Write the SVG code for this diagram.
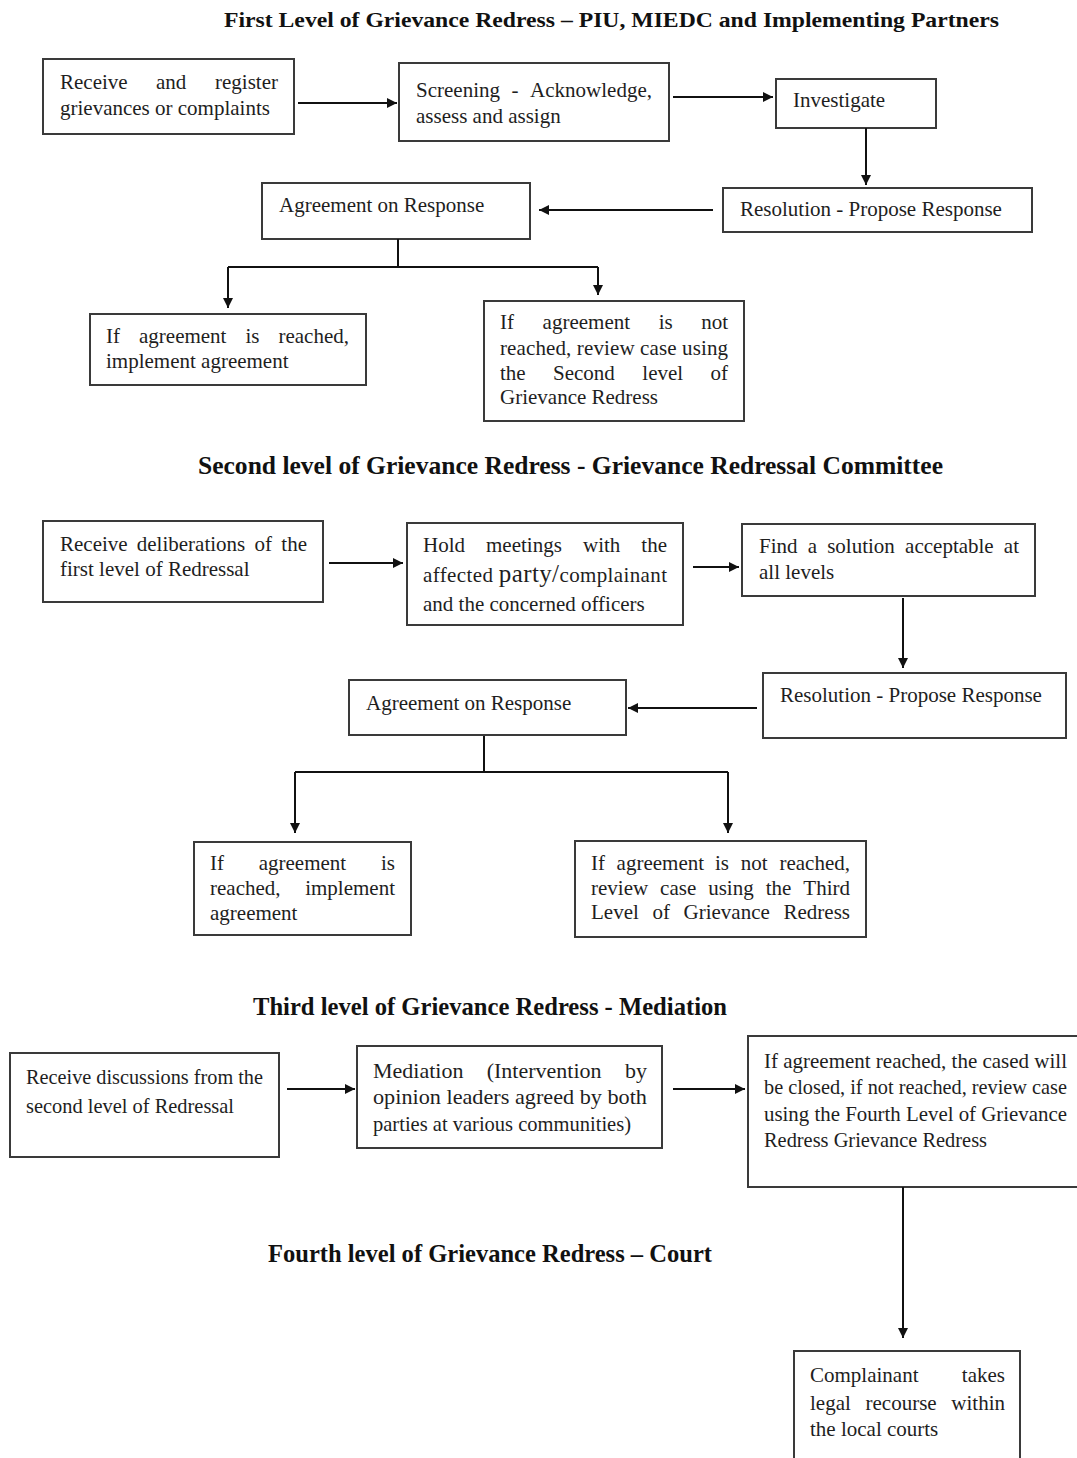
<svg xmlns="http://www.w3.org/2000/svg" width="1077" height="1458" viewBox="0 0 1077 1458">
<style>
.box{fill:#fff;stroke:#3a3a3a;stroke-width:2}
.t{font-family:"Liberation Serif","Times New Roman",serif;font-size:21px;fill:#1e1e1e}
.c{font-family:"Liberation Serif","Times New Roman",serif;font-size:22px;fill:#1e1e1e}
.h{font-family:"Liberation Serif","Times New Roman",serif;font-weight:bold;fill:#111}
.e{text-anchor:end}
.ln{fill:none;stroke:#111;stroke-width:2}
.arr{marker-end:url(#ah)}
</style>
<defs>
<marker id="ah" viewBox="0 0 10 10" refX="10" refY="5" markerWidth="10" markerHeight="10" markerUnits="userSpaceOnUse" orient="auto">
<path d="M0,0 L10,5 L0,10 z" fill="#111"/>
</marker>
</defs>
<rect width="1077" height="1458" fill="#fff"/>

<!-- Titles -->
<text class="h" x="224" y="27" font-size="21" textLength="775" lengthAdjust="spacingAndGlyphs">First Level of Grievance Redress – PIU, MIEDC and Implementing Partners</text>
<text class="h" x="198" y="474" font-size="25" textLength="745" lengthAdjust="spacingAndGlyphs">Second level of Grievance Redress - Grievance Redressal Committee</text>
<text class="h" x="253" y="1015" font-size="25" textLength="474" lengthAdjust="spacingAndGlyphs">Third level of Grievance Redress - Mediation</text>
<text class="h" x="268" y="1262" font-size="25" textLength="444" lengthAdjust="spacingAndGlyphs">Fourth level of Grievance Redress – Court</text>

<!-- Level 1 nodes -->
<g id="l1-receive">
<rect class="box" x="43" y="59" width="251" height="75"/>
<text class="t" y="89"><tspan x="60">Receive</tspan><tspan x="156">and</tspan><tspan x="278" class="e">register</tspan></text>
<text class="t" x="60" y="115">grievances or complaints</text>
</g>
<g id="l1-screening">
<rect class="box" x="399" y="63" width="270" height="78"/>
<text class="t" y="97"><tspan x="416">Screening</tspan><tspan x="511.5">-</tspan><tspan x="652" class="e">Acknowledge,</tspan></text>
<text class="t" x="416" y="123">assess and assign</text>
</g>
<g id="l1-investigate">
<rect class="box" x="776" y="79" width="160" height="49"/>
<text class="t" x="793" y="107">Investigate</text>
</g>
<g id="l1-resolution">
<rect class="box" x="723" y="188" width="309" height="44"/>
<text class="t" x="740" y="216">Resolution - Propose Response</text>
</g>
<g id="l1-agreement">
<rect class="box" x="262" y="183" width="268" height="56"/>
<text class="t" x="279" y="212">Agreement on Response</text>
</g>
<g id="l1-reached">
<rect class="box" x="90" y="314" width="276" height="71"/>
<text class="t" y="343"><tspan x="106">If</tspan><tspan x="139">agreement</tspan><tspan x="245.5">is</tspan><tspan x="349" class="e">reached,</tspan></text>
<text class="t" x="106" y="368">implement agreement</text>
</g>
<g id="l1-notreached">
<rect class="box" x="484" y="301" width="260" height="120"/>
<text class="t" y="329"><tspan x="500">If</tspan><tspan x="542.6">agreement</tspan><tspan x="658.7">is</tspan><tspan x="728" class="e">not</tspan></text>
<text class="t" x="500" y="355" textLength="228" lengthAdjust="spacing">reached, review case using</text>
<text class="t" y="380"><tspan x="500">the</tspan><tspan x="553">Second</tspan><tspan x="642.3">level</tspan><tspan x="728" class="e">of</tspan></text>
<text class="t" x="500" y="404">Grievance Redress</text>
</g>

<!-- Level 2 nodes -->
<g id="l2-receive">
<rect class="box" x="43" y="521" width="280" height="81"/>
<text class="t" y="551"><tspan x="60">Receive</tspan><tspan x="136.8">deliberations</tspan><tspan x="254.5">of</tspan><tspan x="307" class="e">the</tspan></text>
<text class="t" x="60" y="576">first level of Redressal</text>
</g>
<g id="l2-meetings">
<rect class="box" x="407" y="523" width="276" height="102"/>
<text class="t" y="552"><tspan x="423">Hold</tspan><tspan x="486">meetings</tspan><tspan x="583">with</tspan><tspan x="667" class="e">the</tspan></text>
<text class="t" x="423" y="582" textLength="244" lengthAdjust="spacing">affected <tspan font-size="25">party/</tspan>complainant</text>
<text class="t" x="423" y="611">and the concerned officers</text>
</g>
<g id="l2-find">
<rect class="box" x="742" y="524" width="293" height="72"/>
<text class="t" y="553"><tspan x="759">Find</tspan><tspan x="807.7">a</tspan><tspan x="827.2">solution</tspan><tspan x="905.1">acceptable</tspan><tspan x="1019" class="e">at</tspan></text>
<text class="t" x="759" y="579">all levels</text>
</g>
<g id="l2-resolution">
<rect class="box" x="763" y="673" width="303" height="65"/>
<text class="t" x="780" y="702">Resolution - Propose Response</text>
</g>
<g id="l2-agreement">
<rect class="box" x="349" y="680" width="277" height="55"/>
<text class="t" x="366" y="710">Agreement on Response</text>
</g>
<g id="l2-reached">
<rect class="box" x="194" y="842" width="217" height="93"/>
<text class="t" y="870"><tspan x="210">If</tspan><tspan x="258.7">agreement</tspan><tspan x="395" class="e">is</tspan></text>
<text class="t" y="895"><tspan x="210">reached,</tspan><tspan x="395" class="e">implement</tspan></text>
<text class="t" x="210" y="920">agreement</text>
</g>
<g id="l2-notreached">
<rect class="box" x="575" y="841" width="291" height="96"/>
<text class="t" y="870"><tspan x="591">If</tspan><tspan x="616.6">agreement</tspan><tspan x="715">is</tspan><tspan x="740.8">not</tspan><tspan x="850" class="e">reached,</tspan></text>
<text class="t" y="895"><tspan x="591">review</tspan><tspan x="660.1">case</tspan><tspan x="708.2">using</tspan><tspan x="765.7">the</tspan><tspan x="850" class="e">Third</tspan></text>
<text class="t" y="919"><tspan x="591">Level</tspan><tspan x="652.4">of</tspan><tspan x="683.5">Grievance</tspan><tspan x="850" class="e">Redress</tspan></text>
</g>

<!-- Level 3 nodes -->
<g id="l3-receive">
<rect class="box" x="10" y="1053" width="269" height="104"/>
<text class="c" x="26" y="1084" textLength="237" lengthAdjust="spacingAndGlyphs">Receive discussions from the</text>
<text class="c" x="26" y="1113" textLength="208" lengthAdjust="spacingAndGlyphs">second level of Redressal</text>
</g>
<g id="l3-mediation">
<rect class="box" x="357" y="1046" width="305" height="102"/>
<text class="c" y="1078"><tspan x="373">Mediation</tspan><tspan x="486.7">(Intervention</tspan><tspan x="647" class="e">by</tspan></text>
<text class="c" x="373" y="1104" textLength="274" lengthAdjust="spacingAndGlyphs">opinion leaders agreed by both</text>
<text class="c" x="373" y="1131" textLength="258" lengthAdjust="spacingAndGlyphs">parties at various communities)</text>
</g>
<g id="l3-outcome">
<rect class="box" x="748" y="1036" width="340" height="151"/>
<text class="t" x="764" y="1068" textLength="303" lengthAdjust="spacingAndGlyphs">If agreement reached, the cased will</text>
<text class="t" x="764" y="1094" textLength="303" lengthAdjust="spacingAndGlyphs">be closed, if not reached, review case</text>
<text class="t" x="764" y="1121" textLength="303" lengthAdjust="spacingAndGlyphs">using the Fourth Level of Grievance</text>
<text class="t" x="764" y="1147" textLength="223" lengthAdjust="spacingAndGlyphs">Redress Grievance Redress</text>
</g>

<!-- Level 4 node -->
<g id="l4-court">
<rect class="box" x="794" y="1351" width="226" height="120"/>
<text class="t" y="1382"><tspan x="810">Complainant</tspan><tspan x="1005" class="e">takes</tspan></text>
<text class="t" y="1410"><tspan x="810">legal</tspan><tspan x="865.5">recourse</tspan><tspan x="1005" class="e">within</tspan></text>
<text class="t" x="810" y="1436">the local courts</text>
</g>

<!-- Connectors -->
<g id="connectors">
<path class="ln arr" d="M298,103 H397"/>
<path class="ln arr" d="M673,97 H773"/>
<path class="ln arr" d="M866,128 V185"/>
<path class="ln arr" d="M713,210 H539"/>
<path class="ln" d="M398,239 V267 M228,267 H598"/>
<path class="ln arr" d="M228,267 V308"/>
<path class="ln arr" d="M598,267 V295"/>

<path class="ln arr" d="M329,563 H403"/>
<path class="ln arr" d="M693,567 H739"/>
<path class="ln arr" d="M903,598 V668"/>
<path class="ln arr" d="M757,708 H628"/>
<path class="ln" d="M484,736 V772 M295,772 H728"/>
<path class="ln arr" d="M295,772 V833"/>
<path class="ln arr" d="M728,772 V833"/>

<path class="ln arr" d="M287,1089 H355"/>
<path class="ln arr" d="M673,1089 H745"/>
<path class="ln arr" d="M903,1187 V1338"/>
</g>
</svg>
